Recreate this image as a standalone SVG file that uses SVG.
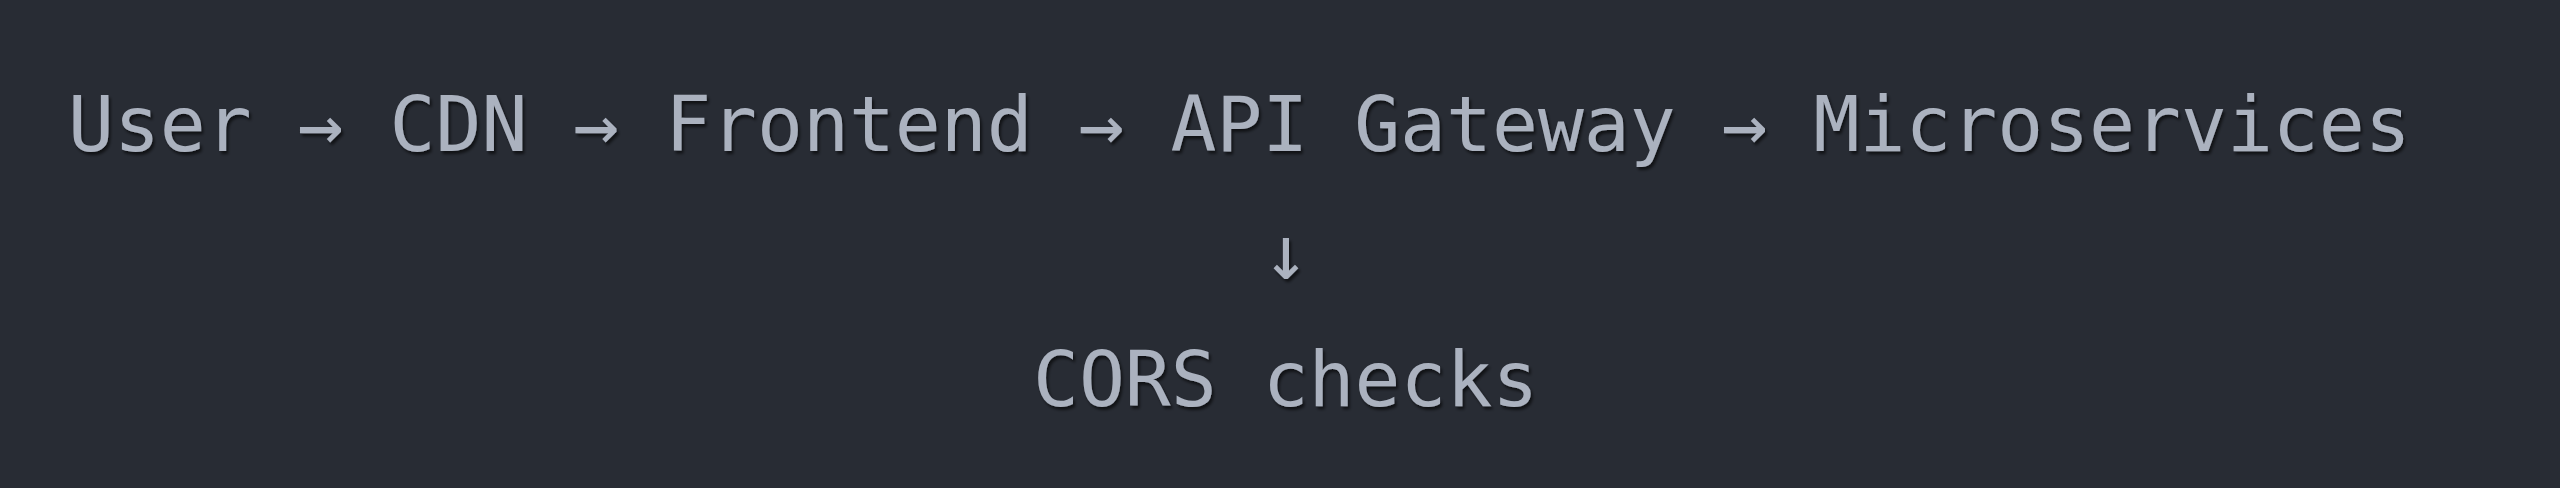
<svg xmlns="http://www.w3.org/2000/svg" width="2560" height="488" viewBox="0 0 2560 488">
<defs>
<filter id="sh" x="-5%" y="-20%" width="110%" height="140%">
<feDropShadow dx="2" dy="3" stdDeviation="1.5" flood-color="#000" flood-opacity="0.6"/>
</filter>
</defs>
<style>
.t{font-family:"DejaVu Sans Mono",monospace;font-size:76.3px;fill:#abb2bf;filter:url(#sh);white-space:pre}
</style>
<rect width="2560" height="488" fill="#282c34"/>
<g id="flow"><text class="t" x="68" y="151" xml:space="preserve">User → CDN → Frontend → API Gateway → Microservices</text></g>
<g id="connectors"><text class="t" x="1263" y="279">↓</text></g>
<g id="cors"><text class="t" x="1033" y="406" xml:space="preserve">CORS checks</text></g>
</svg>
